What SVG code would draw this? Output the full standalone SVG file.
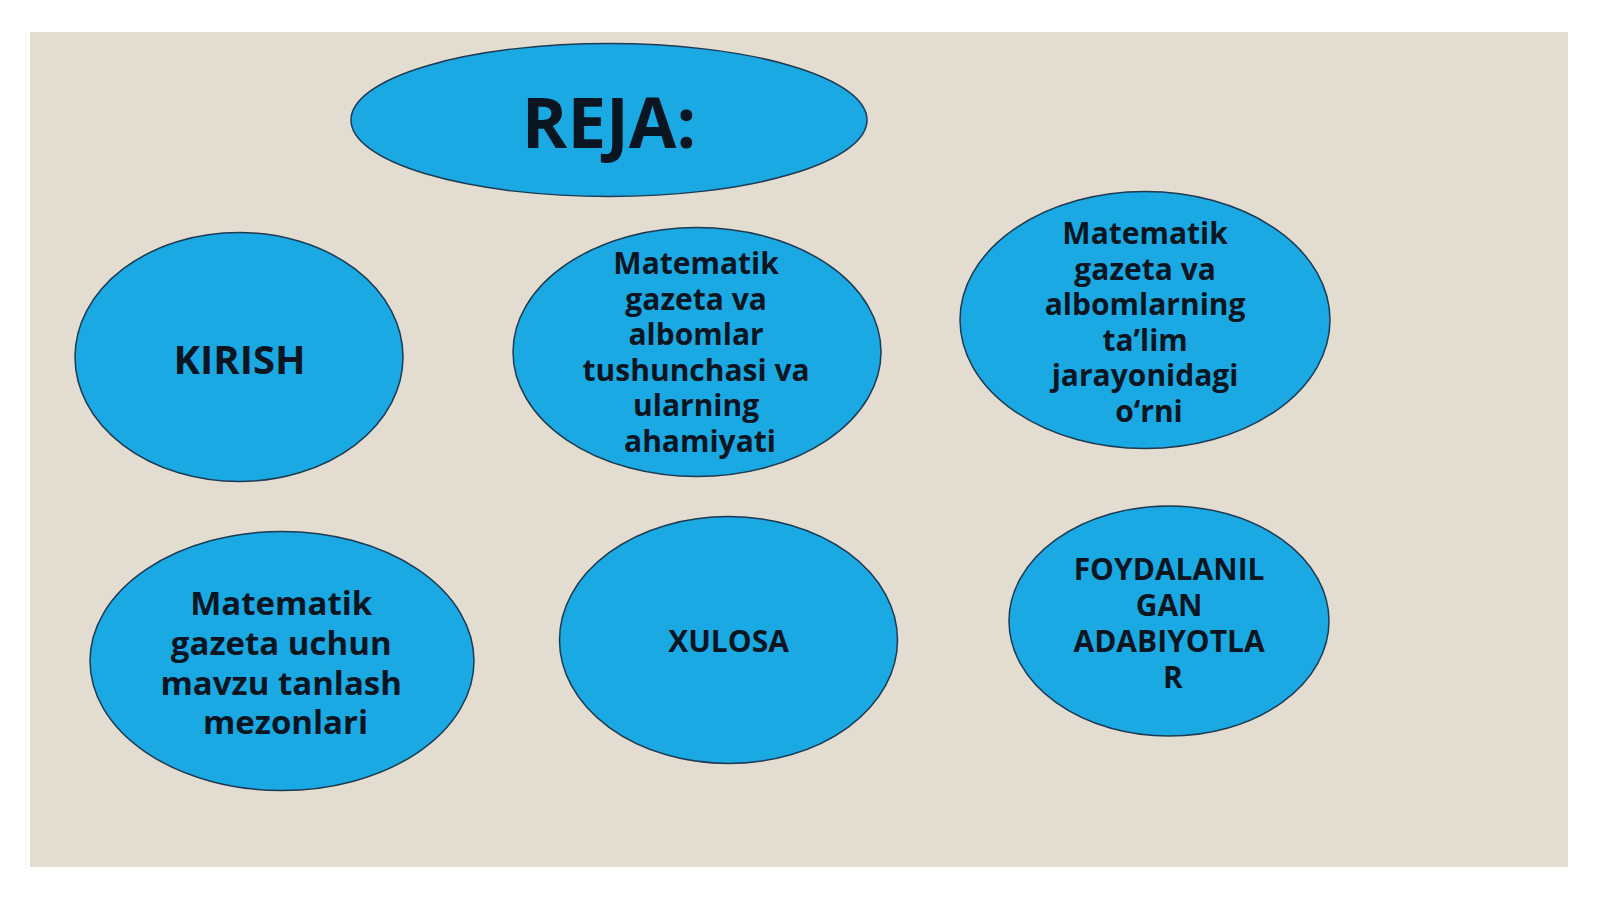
<svg xmlns="http://www.w3.org/2000/svg" width="1600" height="899" viewBox="0 0 1600 899">
<style>
.n{fill:#1aa9e2;stroke:#1d3a52;stroke-width:1.5}
.t{font-family:"Open Sans","Noto Sans","DejaVu Sans",sans-serif;font-weight:bold;fill:#0a1522;text-anchor:middle}
</style>
<rect x="0" y="0" width="1600" height="899" fill="#ffffff"/>
<rect x="30" y="32" width="1538" height="835" fill="#e2ddd0"/>
<g id="connectors"></g>
<g id="reja">
<ellipse class="n" cx="609" cy="120" rx="258" ry="76.5"/>
<text class="t" x="609" y="148" font-size="69">REJA:</text>
</g>
<g id="kirish">
<ellipse class="n" cx="239" cy="357" rx="164" ry="124.5"/>
<text class="t" x="239.5" y="374" font-size="40">KIRISH</text>
</g>
<g id="tushuncha">
<ellipse class="n" cx="697" cy="352" rx="184" ry="124.5"/>
<text class="t" font-size="30">
<tspan x="700" y="274">Matematik</tspan>
<tspan x="700" y="309.5">gazeta va</tspan>
<tspan x="700" y="345">albomlar</tspan>
<tspan x="700" y="380.5">tushunchasi va</tspan>
<tspan x="700" y="416">ularning</tspan>
<tspan x="700" y="451.5">ahamiyati</tspan>
</text>
</g>
<g id="orni">
<ellipse class="n" cx="1145" cy="320" rx="185" ry="128.5"/>
<text class="t" font-size="30">
<tspan x="1149" y="244">Matematik</tspan>
<tspan x="1149" y="279.5">gazeta va</tspan>
<tspan x="1149" y="315">albomlarning</tspan>
<tspan x="1149" y="350.5">ta’lim</tspan>
<tspan x="1149" y="386">jarayonidagi</tspan>
<tspan x="1149" y="422">o‘rni</tspan>
</text>
</g>
<g id="mavzu">
<ellipse class="n" cx="282" cy="661" rx="192" ry="129.5"/>
<text class="t" font-size="33">
<tspan x="285.5" y="615">Matematik</tspan>
<tspan x="285.5" y="655">gazeta uchun</tspan>
<tspan x="285.5" y="694.5">mavzu tanlash</tspan>
<tspan x="285.5" y="734">mezonlari</tspan>
</text>
</g>
<g id="xulosa">
<ellipse class="n" cx="728.5" cy="640" rx="169" ry="123.5"/>
<text class="t" x="728.5" y="652" font-size="30">XULOSA</text>
</g>
<g id="adabiyotlar">
<ellipse class="n" cx="1169" cy="621" rx="160" ry="115"/>
<text class="t" font-size="30">
<tspan x="1173" y="580">FOYDALANIL</tspan>
<tspan x="1173" y="616">GAN</tspan>
<tspan x="1173" y="652">ADABIYOTLA</tspan>
<tspan x="1173" y="688">R</tspan>
</text>
</g>
</svg>
